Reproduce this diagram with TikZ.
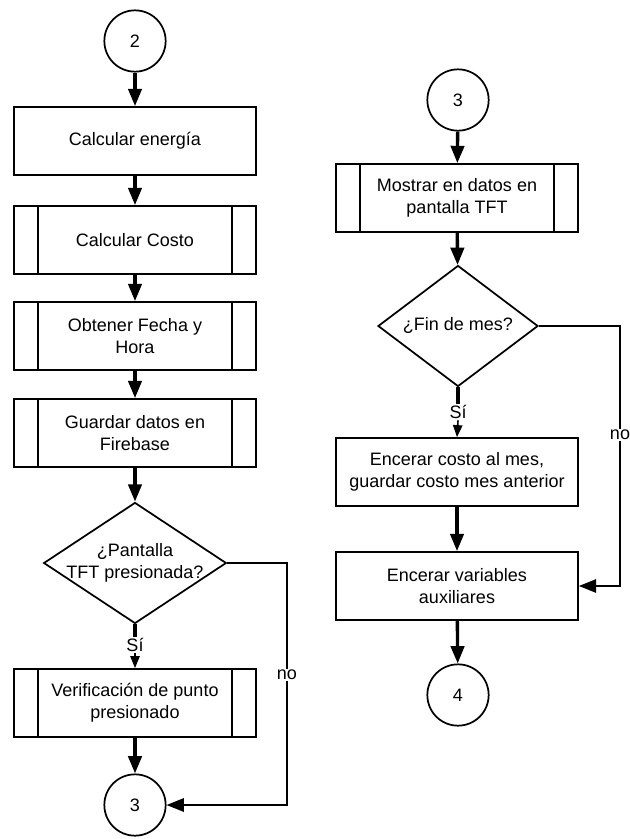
\documentclass[tikz,border=0pt]{standalone}
\usepackage{fontspec}
\setmainfont{Liberation Sans}
\usetikzlibrary{shapes.geometric,arrows.meta}

\tikzset{
	every node/.style={font=\fontsize{13.5}{16.3}\selectfont},
	proc/.style={draw, line width=1.3pt, minimum width=181.5pt, minimum height=51pt, align=center, fill=white},
	subproc/.style={proc, path picture={
			\draw[line width=1.3pt] ([xshift=18pt]path picture bounding box.north west) -- ([xshift=18pt]path picture bounding box.south west);
			\draw[line width=1.3pt] ([xshift=-18pt]path picture bounding box.north east) -- ([xshift=-18pt]path picture bounding box.south east);
		}},
	conn/.style={draw, circle, line width=1.3pt, minimum size=46pt, inner sep=0pt},
	decision/.style={draw, diamond, line width=1.3pt, align=center, minimum width=120pt, minimum height=90.75pt},
	flow/.style={line width=2.5pt, -{Triangle[length=13pt,width=10pt]}},
	thinflow/.style={line width=1.2pt, -{Triangle[length=9pt,width=7pt]}},
	noline/.style={line width=1.5pt, -{Triangle[length=13pt,width=10pt]}},
	lbl/.style={fill=white, inner sep=1pt}
}

\begin{document}
\begin{tikzpicture}[x=0.75pt, y=-0.75pt]
		\useasboundingbox (0,0) rectangle (629,839);

		% left column
		\node[conn] (c2) at (135,41) {2};
		\node[proc] (energia) at (135,141) {Calcular energía};
		\node[subproc] (costo) at (135,240) {Calcular Costo};
		\node[subproc] (fecha) at (135,336) {Obtener Fecha y\\Hora};
		\node[subproc] (firebase) at (135,433) {Guardar datos en\\Firebase};
		\node[decision, aspect=1.51, inner sep=-2.5pt, minimum width=137pt] (pantalla) at (135,563) {¿Pantalla\\TFT presionada?};
		\node[lbl] (si1) at (135,645) {Sí};
		\node[subproc] (verif) at (135,703) {Verificación de punto\\presionado};
		\node[conn] (c3a) at (135,805) {3};
		\coordinate (no1a) at (287,563);
		\coordinate (no1b) at (287,805);

		\draw[flow] (c2) -- (energia);
		\draw[flow] (energia) -- (costo);
		\draw[flow] (costo) -- (fecha);
		\draw[flow] (fecha) -- (firebase);
		\draw[flow] (firebase) -- (pantalla);
		\draw[line width=2.5pt] (pantalla.south) -- (si1.north);
		\draw[thinflow] (si1.south) -- (verif.north);
		\draw[flow] (verif) -- (c3a);
		\draw[noline] (pantalla.east) -- (no1a) -- (no1b) -- (c3a.east);
		\node[lbl] (no1) at (287,675) {no};

		% right column
		\node[conn] (c3b) at (458,100) {3};
		\node[subproc] (mostrar) at (457,198) {Mostrar en datos en\\pantalla TFT};
		\node[decision, aspect=1.32] (finmes) at (458,326) {¿Fin de mes?};
		\node[lbl] (si2) at (458,412) {Sí};
		\node[proc] (encerar) at (457,472) {Encerar costo al mes,\\guardar costo mes anterior};
		\node[proc] (variables) at (457,586) {Encerar variables\\auxiliares};
		\node[conn] (c4) at (458,695) {4};
		\coordinate (no2a) at (620,326);
		\coordinate (no2b) at (620,586);

		\draw[flow] (c3b) -- (mostrar);
		\draw[flow] (mostrar) -- (finmes);
		\draw[line width=2.5pt] (finmes.south) -- (si2.north);
		\draw[thinflow] (si2.south) -- (encerar.north);
		\draw[flow] (encerar) -- (variables);
		\draw[flow] (variables) -- (c4);
		\draw[noline] (finmes.east) -- (no2a) -- (no2b) -- (variables.east);
		\node[lbl] (no2) at (620,435) {no};
	\end{tikzpicture}
\end{document}
